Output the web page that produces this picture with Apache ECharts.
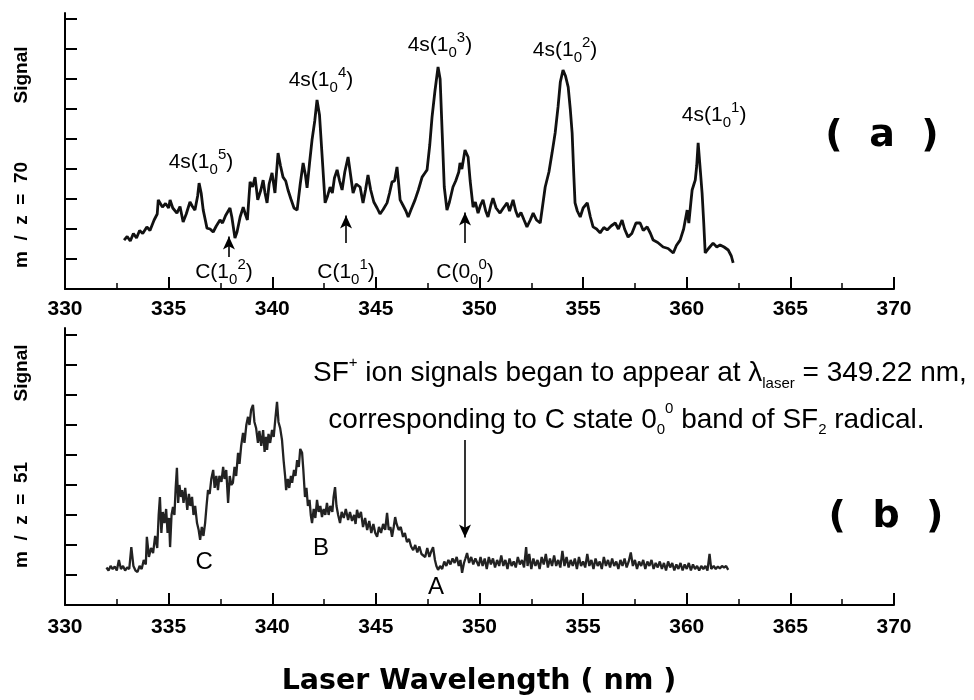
<!DOCTYPE html>
<html>
<head>
<meta charset="utf-8">
<script src="https://cdn.jsdelivr.net/npm/echarts@6/dist/echarts.min.js"></script>
<style>
  html, body { margin: 0; padding: 0; background: #fff; }
  #myChart { width: 974px; height: 700px; }
</style>
</head>
<body>
<div id="myChart"></div>
<script>
// wavelength axis ticks (nm) and signal ticks (arb. units, no labels)
var xTicks = [330, 370, 5];
var yTickVals = [1, 2, 3, 4, 5, 6, 7, 8, 9];

// (a) m/z = 70 trace: [wavelength nm, signal]
var traceA = [
  [332.85,1.63],[333.0,1.75],[333.15,1.6],[333.3,1.85],[333.45,1.7],[333.6,1.95],[333.75,1.85],[333.95,2.07],
  [334.1,1.95],[334.3,2.3],[334.45,2.5],[334.5,2.97],[334.6,2.85],[334.7,2.73],[334.85,2.85],[335.0,2.7],
  [335.07,2.97],[335.2,2.7],[335.4,2.53],[335.55,2.75],[335.7,2.23],[335.85,2.5],[336.03,2.9],[336.15,2.75],
  [336.27,2.63],[336.4,3.1],[336.47,3.53],[336.57,3.2],[336.67,2.63],[336.77,2.3],[336.85,2.03],[337.0,2.0],
  [337.15,1.9],[337.3,2.1],[337.48,2.3],[337.6,2.2],[337.75,2.45],[337.96,2.7],[338.05,2.4],[338.2,1.7],
  [338.3,1.9],[338.45,2.4],[338.6,2.73],[338.7,2.5],[338.8,2.3],[338.93,3.57],[339.05,3.4],[339.17,3.73],
  [339.3,2.97],[339.45,3.3],[339.56,3.63],[339.65,3.2],[339.75,2.87],[339.85,3.5],[339.99,3.87],[340.13,3.2],
  [340.28,4.53],[340.4,4.1],[340.52,3.73],[340.65,3.6],[340.76,3.3],[340.9,3.0],[341.05,2.7],[341.2,2.63],
  [341.35,3.5],[341.49,4.2],[341.6,3.8],[341.68,3.37],[341.8,4.2],[341.92,4.97],[342.05,5.6],[342.16,6.3],
  [342.28,5.8],[342.4,4.5],[342.55,2.87],[342.67,3.1],[342.79,3.4],[342.9,3.2],[343.0,3.7],[343.13,3.97],
  [343.25,3.6],[343.37,3.3],[343.5,3.9],[343.66,4.4],[343.78,3.8],[343.9,3.2],[344.05,3.5],[344.24,3.4],
  [344.38,2.87],[344.5,3.3],[344.62,3.8],[344.75,3.3],[344.9,2.9],[345.06,2.7],[345.2,2.5],[345.35,2.65],
  [345.54,2.87],[345.66,3.2],[345.78,3.57],[345.9,3.6],[346.02,4.07],[346.1,3.5],[346.17,2.97],[346.3,2.8],
  [346.45,2.6],[346.56,2.4],[346.7,2.65],[346.89,2.97],[347.05,3.3],[347.23,3.73],[347.35,3.85],[347.47,3.97],
  [347.6,4.8],[347.71,5.73],[347.85,6.6],[348.0,7.4],[348.1,7.0],[348.2,5.2],[348.3,3.4],[348.43,2.63],
  [348.55,2.9],[348.72,3.4],[348.85,3.6],[349.0,3.9],[349.06,4.2],[349.15,4.0],[349.3,4.63],[349.45,4.4],
  [349.55,3.6],[349.69,2.73],[349.8,2.9],[349.93,2.53],[350.05,2.8],[350.17,2.97],[350.3,2.6],[350.41,2.4],
  [350.55,2.8],[350.65,3.03],[350.8,2.7],[350.99,2.53],[351.15,2.7],[351.33,2.87],[351.45,2.6],[351.62,2.97],
  [351.75,2.6],[351.86,2.4],[352.0,2.55],[352.15,2.3],[352.29,2.07],[352.45,2.3],[352.59,2.53],[352.75,2.3],
  [352.93,2.2],[353.05,2.8],[353.17,3.4],[353.35,3.9],[353.5,4.53],[353.65,5.2],[353.79,6.07],[353.9,6.9],
  [354.03,7.3],[354.15,7.1],[354.28,6.73],[354.38,6.0],[354.47,5.2],[354.55,3.8],[354.61,2.87],[354.72,2.6],
  [354.86,2.4],[355.0,2.7],[355.2,2.87],[355.35,2.4],[355.48,2.07],[355.65,2.0],[355.82,1.87],[356.0,2.05],
  [356.16,1.97],[356.35,2.1],[356.55,2.2],[356.7,2.0],[356.88,2.3],[357.0,2.0],[357.17,1.73],[357.35,1.85],
  [357.55,2.2],[357.75,2.2],[357.9,1.95],[358.09,2.07],[358.25,1.85],[358.38,1.63],[358.6,1.55],[358.86,1.4],
  [359.1,1.35],[359.35,1.2],[359.5,1.45],[359.68,1.63],[359.85,2.0],[360.02,2.63],[360.1,2.2],[360.2,2.9],
  [360.26,3.3],[360.35,3.5],[360.41,3.63],[360.48,4.1],[360.55,4.87],[360.65,4.0],[360.74,3.2],[360.82,2.2],
  [360.89,1.2],[361.05,1.35],[361.27,1.53],[361.45,1.4],[361.61,1.47],[361.8,1.4],[362.0,1.3],[362.15,1.1],
  [362.24,0.87]
];

// (b) m/z = 51 trace: [wavelength nm, signal]
var traceB = [
  [332.0,1.25],[332.1,1.15],[332.2,1.3],[332.3,1.2],[332.4,1.28],[332.5,1.15],[332.6,1.5],[332.7,1.2],
  [332.8,1.3],[332.9,1.15],[333.0,1.25],[333.1,1.2],[333.2,1.93],[333.3,1.3],[333.4,1.15],[333.5,1.1],
  [333.6,1.3],[333.7,1.2],[333.8,1.5],[333.9,1.35],[333.95,2.27],[334.05,1.6],[334.15,1.9],[334.25,1.73],
  [334.35,2.3],[334.45,1.9],[334.52,3.0],[334.58,3.6],[334.65,2.4],[334.72,3.1],[334.8,2.73],[334.88,3.2],
  [334.95,2.4],[335.02,2.9],[335.07,1.93],[335.14,3.0],[335.21,3.27],[335.28,3.0],[335.34,3.9],[335.4,4.57],
  [335.46,3.4],[335.52,4.0],[335.6,3.6],[335.65,3.83],[335.72,3.4],[335.8,3.9],[335.9,3.17],[335.98,3.7],
  [336.05,3.3],[336.13,3.6],[336.2,3.0],[336.28,3.3],[336.37,2.73],[336.45,2.5],[336.52,2.17],[336.6,2.6],
  [336.68,2.3],[336.76,2.73],[336.83,3.3],[336.9,3.83],[336.98,3.7],[337.06,4.2],[337.15,4.5],[337.22,3.9],
  [337.3,4.3],[337.38,3.83],[337.45,4.3],[337.55,4.1],[337.63,4.6],[337.7,4.2],[337.78,4.5],[337.87,3.4],
  [337.95,4.3],[338.03,4.0],[338.1,4.07],[338.18,4.6],[338.26,4.3],[338.35,5.07],[338.42,4.7],[338.5,5.3],
  [338.59,5.73],[338.66,5.4],[338.75,6.0],[338.83,6.27],[338.9,6.0],[338.98,6.5],[339.07,6.67],[339.14,6.1],
  [339.22,5.9],[339.31,5.4],[339.38,5.8],[339.47,5.3],[339.56,5.83],[339.63,5.1],[339.7,5.6],[339.75,5.17],
  [339.82,5.7],[339.9,5.4],[339.99,5.83],[340.07,5.6],[340.15,6.2],[340.23,6.77],[340.3,6.1],[340.38,5.9],
  [340.47,5.5],[340.55,4.8],[340.62,4.3],[340.67,3.83],[340.75,4.2],[340.82,3.9],[340.9,4.3],[340.96,4.07],
  [341.05,4.5],[341.12,4.3],[341.2,4.83],[341.28,4.6],[341.35,5.2],[341.44,5.07],[341.5,4.5],[341.58,3.6],
  [341.65,3.9],[341.72,3.3],[341.8,3.5],[341.86,3.0],[341.92,2.73],[342.0,3.2],[342.08,2.9],[342.16,3.5],
  [342.24,3.1],[342.32,3.3],[342.4,2.93],[342.48,3.2],[342.56,3.0],[342.64,3.4],[342.72,3.0],[342.8,3.3],
  [342.9,3.1],[342.96,3.6],[343.03,3.93],[343.1,3.3],[343.18,3.0],[343.27,2.73],[343.35,3.1],[343.45,2.9],
  [343.55,3.2],[343.66,2.83],[343.75,3.1],[343.85,2.8],[343.95,3.0],[344.02,2.7],[344.09,3.17],[344.18,2.9],
  [344.28,3.1],[344.38,2.6],[344.48,2.9],[344.58,2.5],[344.68,2.8],[344.78,2.4],[344.88,2.7],[344.97,2.4],
  [345.06,2.27],[345.15,2.6],[345.25,2.4],[345.35,2.7],[345.45,2.5],[345.54,3.07],[345.62,2.5],[345.7,2.6],
  [345.78,2.27],[345.86,2.6],[345.93,2.93],[346.0,2.7],[346.1,2.5],[346.2,2.6],[346.31,2.27],[346.4,2.4],
  [346.5,2.1],[346.6,2.2],[346.7,1.95],[346.8,1.83],[346.9,2.0],[347.0,1.75],[347.1,1.95],[347.2,1.7],
  [347.28,1.73],[347.38,1.6],[347.48,1.9],[347.58,1.6],[347.68,1.8],[347.76,1.93],[347.85,1.5],[347.92,1.3],
  [348.0,1.17],[348.1,1.3],[348.2,1.2],[348.3,1.45],[348.4,1.3],[348.5,1.5],[348.6,1.35],[348.7,1.55],
  [348.8,1.4],[348.9,1.6],[349.0,1.3],[349.08,1.5],[349.16,1.07],[349.25,1.4],[349.32,1.55],[349.4,1.73],
  [349.5,1.4],[349.6,1.6],[349.7,1.35],[349.8,1.55],[349.88,1.5],[349.96,1.3],[350.05,1.6],[350.15,1.3],
  [350.25,1.55],[350.35,1.2],[350.45,1.6],[350.55,1.35],[350.65,1.55],[350.75,1.25],[350.85,1.5],[350.95,1.3],
  [351.05,1.65],[351.15,1.3],[351.25,1.5],[351.35,1.2],[351.45,1.55],[351.55,1.3],[351.65,1.45],[351.75,1.25],
  [351.85,1.6],[351.95,1.35],[352.05,1.5],[352.15,1.25],[352.25,1.93],[352.32,1.3],[352.4,1.7],[352.5,1.2],
  [352.6,1.55],[352.7,1.3],[352.8,1.5],[352.9,1.2],[353.0,1.6],[353.1,1.35],[353.2,1.7],[353.3,1.25],
  [353.4,1.55],[353.5,1.3],[353.6,1.65],[353.7,1.3],[353.8,1.5],[353.9,1.25],[354.0,1.8],[354.1,1.3],
  [354.2,1.6],[354.3,1.25],[354.4,1.5],[354.5,1.3],[354.6,1.55],[354.7,1.2],[354.8,1.6],[354.9,1.3],
  [355.0,1.45],[355.1,1.25],[355.2,1.7],[355.3,1.3],[355.4,1.5],[355.5,1.2],[355.6,1.55],[355.7,1.3],
  [355.8,1.45],[355.9,1.2],[356.0,1.6],[356.1,1.3],[356.2,1.5],[356.3,1.25],[356.4,1.55],[356.5,1.3],
  [356.6,1.45],[356.7,1.2],[356.8,1.5],[356.9,1.3],[357.0,1.55],[357.1,1.25],[357.2,1.45],[357.3,1.75],
  [357.4,1.3],[357.5,1.5],[357.6,1.2],[357.7,1.45],[357.8,1.3],[357.9,1.5],[358.0,1.2],[358.1,1.45],
  [358.2,1.3],[358.3,1.5],[358.4,1.2],[358.5,1.4],[358.6,1.25],[358.7,1.45],[358.8,1.2],[358.9,1.4],
  [359.0,1.15],[359.1,1.45],[359.2,1.25],[359.3,1.4],[359.4,1.15],[359.5,1.35],[359.6,1.2],[359.7,1.4],
  [359.8,1.15],[359.9,1.35],[360.0,1.2],[360.1,1.4],[360.2,1.15],[360.3,1.35],[360.4,1.2],[360.5,1.3],
  [360.6,1.15],[360.7,1.3],[360.8,1.2],[360.9,1.3],[361.0,1.15],[361.1,1.7],[361.18,1.2],[361.3,1.3],
  [361.4,1.2],[361.5,1.28],[361.6,1.22],[361.7,1.3],[361.8,1.25],[361.9,1.3],[362.0,1.17]
];

// peak / band labels: [text, wavelength, signal]
var labelsA = [
  ['{n|4s(1}{b|0}{t|5}{n|)}', 336.56, 4.23],
  ['{n|4s(1}{b|0}{t|4}{n|)}', 342.35, 6.97],
  ['{n|4s(1}{b|0}{t|3}{n|)}', 348.09, 8.13],
  ['{n|4s(1}{b|0}{t|2}{n|)}', 354.13, 7.97],
  ['{n|4s(1}{b|0}{t|1}{n|)}', 361.32, 5.8],
  ['{n|C(1}{b|0}{t|2}{n|)}', 337.67, 0.57],
  ['{n|C(1}{b|0}{t|1}{n|)}', 343.56, 0.57],
  ['{n|C(0}{b|0}{t|0}{n|)}', 349.3, 0.57]
];
// up arrows in (a): [wavelength, from, to]
var arrowsA = [[337.91, 1.07, 1.75], [343.56, 1.53, 2.45], [349.3, 1.53, 2.55]];

var labelsB = [
  ['{L|C}', 336.71, 1.43],
  ['{L|B}', 342.35, 1.9],
  ['{L|A}', 347.9, 0.6],
  ['{m|SF}{t|+}{m| ion signals began to appear at λ}{b|laser}{m| = 349.22 nm,}', 357.74, 7.73],
  ['{m|corresponding to C state 0}{b|0}{t|0}{m| band of SF}{b|2}{m| radical.}', 357.09, 6.17]
];
var arrowsB = [[349.3, 5.5, 2.25]];

var FONT = '"Liberation Sans", Arial, sans-serif';
var HEAVY = '"DejaVu Sans", "Liberation Sans", sans-serif';

var rich = {
  n: { fontFamily: FONT, fontSize: 21, color: '#000', lineHeight: 30 },
  L: { fontFamily: FONT, fontSize: 24, color: '#000', lineHeight: 30 },
  m: { fontFamily: FONT, fontSize: 28, color: '#000', lineHeight: 36 },
  b: { fontFamily: FONT, fontSize: 15, color: '#000', lineHeight: 12, verticalAlign: 'bottom' },
  t: { fontFamily: FONT, fontSize: 15, color: '#000', lineHeight: 12, verticalAlign: 'top' }
};

function toMarkPoints(list) {
  return list.map(function (l) {
    return { coord: [l[1], l[2]], label: { formatter: l[0] } };
  });
}
function toArrows(list) {
  return list.map(function (a) {
    return [{ coord: [a[0], a[1]] }, { coord: [a[0], a[2]] }];
  });
}

function xAxisCfg(idx, margin) {
  return {
    gridIndex: idx, type: 'value', min: xTicks[0], max: xTicks[1], interval: xTicks[2],
    axisLine: { onZero: false, lineStyle: { color: '#000', width: 2 } },
    axisTick: { inside: true, length: 12, lineStyle: { color: '#000', width: 2 } },
    minorTick: { show: true, splitNumber: 2, length: 6, lineStyle: { color: '#000', width: 1.5 } },
    splitLine: { show: false },
    axisLabel: { color: '#000', fontFamily: FONT, fontWeight: 'bold', fontSize: 21, margin: margin }
  };
}
function yAxisCfg(idx, max) {
  return {
    gridIndex: idx, type: 'value', min: 0, max: max, interval: 1,
    axisLine: { show: true, onZero: false, lineStyle: { color: '#000', width: 2 } },
    axisTick: { show: true, inside: true, length: 12, customValues: yTickVals, lineStyle: { color: '#000', width: 2 } },
    axisLabel: { show: false },
    splitLine: { show: false }
  };
}

var markCommon = {
  symbol: 'circle', symbolSize: 1,
  itemStyle: { color: 'rgba(0,0,0,0)' },
  label: { show: true, position: 'inside', rich: rich },
  silent: true
};
var arrowCommon = {
  symbol: ['none', 'arrow'], symbolSize: [9, 13], silent: true,
  lineStyle: { color: '#000', width: 1.6, type: 'solid' },
  label: { show: false }
};

function vText(x, y, text) {
  return { type: 'text', x: x, y: y, rotation: Math.PI / 2,
    style: { text: text, font: 'bold 19px ' + FONT, fill: '#000',
             align: 'center', verticalAlign: 'middle', textAlign: 'center', textVerticalAlign: 'middle' } };
}
function hText(x, y, text, font) {
  return { type: 'text', x: x, y: y,
    style: { text: text, font: font, fill: '#000',
             align: 'center', verticalAlign: 'middle', textAlign: 'center', textVerticalAlign: 'middle' } };
}

var option = {
  animation: false,
  backgroundColor: '#fff',
  grid: [
    { left: 65, top: 13, width: 829, height: 276 },
    { left: 65, top: 328, width: 829, height: 277 }
  ],
  xAxis: [xAxisCfg(0, 10), xAxisCfg(1, 12)],
  yAxis: [yAxisCfg(0, 9.2), yAxisCfg(1, 9.23)],
  series: [
    {
      name: 'm/z=70', type: 'line', xAxisIndex: 0, yAxisIndex: 0, data: traceA,
      symbol: 'none', lineStyle: { color: '#111', width: 2.8 },
      markPoint: Object.assign({ data: toMarkPoints(labelsA) }, markCommon),
      markLine: Object.assign({ data: toArrows(arrowsA) }, arrowCommon)
    },
    {
      name: 'm/z=51', type: 'line', xAxisIndex: 1, yAxisIndex: 1, data: traceB,
      symbol: 'none', lineStyle: { color: '#222', width: 2.3 },
      markPoint: Object.assign({ data: toMarkPoints(labelsB) }, markCommon),
      markLine: Object.assign({ data: toArrows(arrowsB) }, arrowCommon)
    }
  ],
  graphic: [
    vText(22, 75, 'Signal'),
    vText(22, 215, 'm  /  z  =  70'),
    vText(22, 373, 'Signal'),
    vText(22, 515, 'm  /  z  =  51'),
    hText(882, 136, '(  a  )', 'bold 38px ' + HEAVY),
    hText(886, 517, '(  b  )', 'bold 38px ' + HEAVY),
    hText(479, 682, 'Laser Wavelength ( nm )', 'bold 28.5px ' + HEAVY)
  ]
};

var myChart = echarts.init(document.getElementById('myChart'), null, { renderer: 'canvas' });
myChart.setOption(option);
</script>
</body>
</html>
